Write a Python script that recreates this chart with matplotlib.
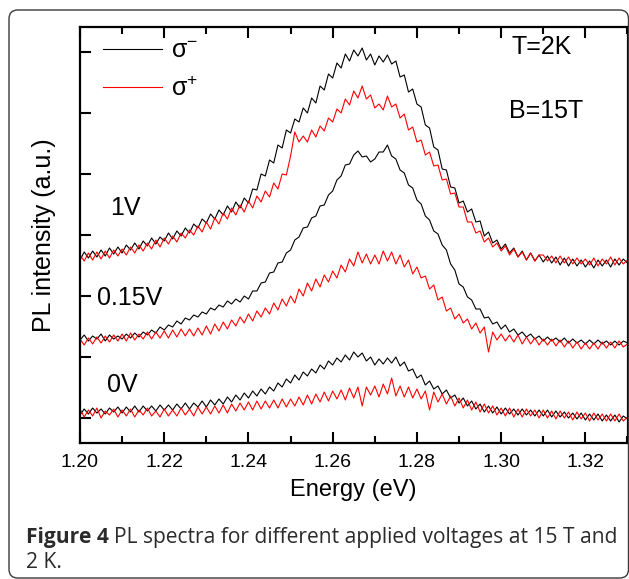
import numpy as np
import matplotlib
matplotlib.use("Agg")
import matplotlib.pyplot as plt
from matplotlib.patches import FancyBboxPatch

plt.rcParams['font.family'] = ['Liberation Sans', 'DejaVu Sans']
plt.rcParams['mathtext.fontset'] = 'custom'
plt.rcParams['mathtext.rm'] = 'Liberation Sans'
plt.rcParams['mathtext.it'] = 'Liberation Sans'

# ---------------- data ----------------
energy = np.round(np.arange(1200, 1331) / 1000.0, 3)   # eV, 1.200 ... 1.330

v1_minus = [
    158,166,160,167,161,168,162,170,164,171,
    165,173,168,175,169,177,172,180,174,181,
    177,185,179,187,182,190,185,194,190,199,
    195,204,199,208,203,212,206,216,210,220,
    215,229,228,244,242,258,255,273,270,288,
    285,299,296,310,305,320,315,332,328,344,
    340,355,350,364,357,368,362,370,358,364,
    353,362,356,363,354,357,341,343,326,329,
    314,311,293,290,271,268,249,248,231,230,
    215,217,206,209,196,197,182,186,175,178,
    169,174,165,170,161,167,158,165,157,163,
    156,162,155,161,153,160,152,159,152,158,
    151,157,150,158,152,158,151,159,153,159,155]
v1_plus = [
    163,157,165,158,166,159,167,160,168,162,
    169,163,171,165,173,167,175,169,178,171,
    180,174,182,176,185,180,188,183,192,186,
    196,189,200,194,205,199,210,203,213,206,
    217,210,222,216,227,221,235,229,244,243,
    262,286,276,282,276,288,281,292,287,300,
    296,309,305,319,313,327,320,332,319,323,
    310,314,308,322,311,314,300,304,288,291,
    276,278,263,266,252,253,238,239,224,225,
    211,211,196,196,185,187,176,180,171,175,
    167,172,163,169,161,166,158,165,157,163,
    163,157,162,155,162,155,161,154,160,154,
    159,153,160,152,159,154,161,153,160,154,158]
v015_minus = [
    78,83,77,82,79,84,77,83,79,82,
    79,84,80,85,81,86,83,88,85,91,
    88,93,91,97,94,100,98,103,101,106,
    104,110,108,113,111,117,114,119,116,122,
    119,127,127,135,136,145,146,155,156,165,
    168,178,181,190,191,200,202,212,213,223,
    227,238,242,253,254,263,267,261,262,256,
    259,266,266,273,262,259,248,245,233,230,
    218,214,202,198,187,184,173,168,154,148,
    134,131,121,118,109,109,100,101,94,96,
    89,93,86,89,83,86,81,84,79,82,
    77,81,77,80,76,80,75,79,75,78,
    74,78,74,78,74,77,73,77,73,77,75]
v015_plus = [
    79,73,80,74,81,75,82,76,83,77,
    84,77,85,78,84,79,86,79,86,80,
    87,80,88,81,89,82,89,82,90,83,
    92,84,94,87,96,89,98,92,101,95,
    104,97,107,101,110,104,115,108,119,112,
    122,115,129,122,135,127,139,131,143,136,
    147,140,153,146,159,152,166,155,164,154,
    163,154,167,157,166,154,163,151,158,144,
    151,140,142,129,133,118,121,107,110,99,
    104,95,99,89,95,85,91,66,86,78,
    84,77,83,76,83,74,81,74,80,73,
    79,73,79,72,78,71,77,70,76,69,
    75,69,75,69,76,70,76,70,77,71,74]
v0_minus = [
    3,9,4,10,5,9,4,10,6,11,
    5,11,6,12,6,12,7,12,7,13,
    8,13,8,14,9,15,9,15,11,17,
    11,18,13,19,14,21,16,23,18,25,
    20,27,22,29,24,31,27,35,31,39,
    35,43,38,46,42,49,45,53,49,57,
    53,60,56,63,58,66,61,65,57,61,
    53,59,54,60,55,61,52,56,47,49,
    40,43,33,37,29,32,24,28,20,23,
    15,20,12,17,9,14,6,12,5,11,
    4,10,4,9,3,9,3,8,2,8,
    2,8,1,7,1,6,0,5,-1,5,
    -2,4,-2,4,-3,3,-3,3,-4,2,-1]
v0_plus = [
    9,1,8,2,10,0,7,3,9,1,
    8,2,9,1,8,3,10,2,7,1,
    9,2,8,2,10,3,9,2,11,4,
    11,4,12,5,13,5,14,7,15,8,
    16,8,17,9,17,10,18,10,19,11,
    19,12,21,13,23,14,24,16,26,17,
    27,19,28,18,30,20,31,12,31,23,
    32,21,34,24,40,22,32,21,31,20,
    29,19,27,8,26,16,24,14,22,12,
    20,10,18,8,16,6,14,5,12,3,
    10,2,10,1,9,1,9,2,8,0,
    8,0,7,-1,7,0,6,-2,6,-1,
    5,-3,5,-2,4,-3,4,-3,4,-3,1]

voltage_labels = ["1V", "0.15V", "0V"]
legend_labels = [r'$\mathregular{\sigma^{-}}$', r'$\mathregular{\sigma^{+}}$']
xticks = [1.20, 1.22, 1.24, 1.26, 1.28, 1.30, 1.32]

# ---------------- figure ----------------
W, H = 629, 579
fig = plt.figure(figsize=(W / 100, H / 100), dpi=100)

def fx(px):
    return px / W

def fy(py):
    return 1 - py / H

# rounded frame
frame = FancyBboxPatch((fx(9), fy(578)), fx(628.5) - fx(9), fy(10) - fy(578),
                       boxstyle="round,pad=0,rounding_size=0.014",
                       transform=fig.transFigure, facecolor='none',
                       edgecolor='#3a3a3a', linewidth=1.0, mutation_aspect=W / H)
fig.patches.append(frame)

ax = fig.add_axes([fx(80), fy(443), fx(627.5) - fx(80), fy(27) - fy(443)])

l1, = ax.plot(energy, v1_minus, color='black', lw=0.8)
l2, = ax.plot(energy, v1_plus, color='red', lw=0.8)
ax.plot(energy, v015_minus, color='black', lw=0.8)
ax.plot(energy, v015_plus, color='red', lw=0.8)
ax.plot(energy, v0_minus, color='black', lw=0.8)
ax.plot(energy, v0_plus, color='red', lw=0.8)

ax.set_xlim(1.20, 1.33)
ax.set_ylim(-25, 391)
ax.set_xticks(xticks)
ax.set_xticklabels([f"{t:.2f}" for t in xticks])
ax.set_xticks(np.arange(1.21, 1.331, 0.02), minor=True)
ax.set_yticks(np.arange(0, 391, 61))
ax.set_yticklabels([])

ax.tick_params(axis='x', which='major', direction='in', length=8, width=1.5,
               top=True, labelsize=14, pad=8)
ax.tick_params(axis='x', which='minor', direction='in', length=5, width=1.5, top=True)
ax.tick_params(axis='y', which='major', direction='in', length=8, width=1.5, right=False)
for s in ax.spines.values():
    s.set_linewidth(1.6)

ax.set_xlabel("Energy (eV)", fontsize=17, labelpad=6)
ax.set_ylabel("PL intensity (a.u.)", fontsize=18, labelpad=14)

ax.text(1.2071, 210, voltage_labels[0], fontsize=18, va='center', ha='left')
ax.text(1.2040, 120, voltage_labels[1], fontsize=18, va='center', ha='left')
ax.text(1.2064, 33, voltage_labels[2], fontsize=18, va='center', ha='left')
ax.text(1.3024, 371, "T=2K", fontsize=18, va='center', ha='left')
ax.text(1.3019, 307, "B=15T", fontsize=18, va='center', ha='left')

leg = ax.legend([l1, l2], legend_labels, loc='upper left',
                bbox_to_anchor=(0.042, 0.971), frameon=False, fontsize=18,
                handlelength=2.36, handletextpad=0.35, labelspacing=0.53,
                borderpad=0, borderaxespad=0)

# caption
cap_color = '#2b2b2b'
cap_fs = 15.1
t1 = fig.text(fx(26), fy(537), "Figure 4", fontsize=cap_fs, fontweight='bold',
              family=['Open Sans', 'DejaVu Sans'], color=cap_color, va='center')
fig.canvas.draw()
r = fig.canvas.get_renderer()
bb = t1.get_window_extent(r)
fig.text(bb.x1 / W + fx(5), fy(537),
         "PL spectra for different applied voltages at 15 T and",
         fontsize=cap_fs, family=['Open Sans', 'DejaVu Sans'], color=cap_color, va='center')
fig.text(fx(26), fy(563), "2 K.", fontsize=cap_fs, family=['Open Sans', 'DejaVu Sans'],
         color=cap_color, va='center')

fig.savefig("out.png", dpi=100)
